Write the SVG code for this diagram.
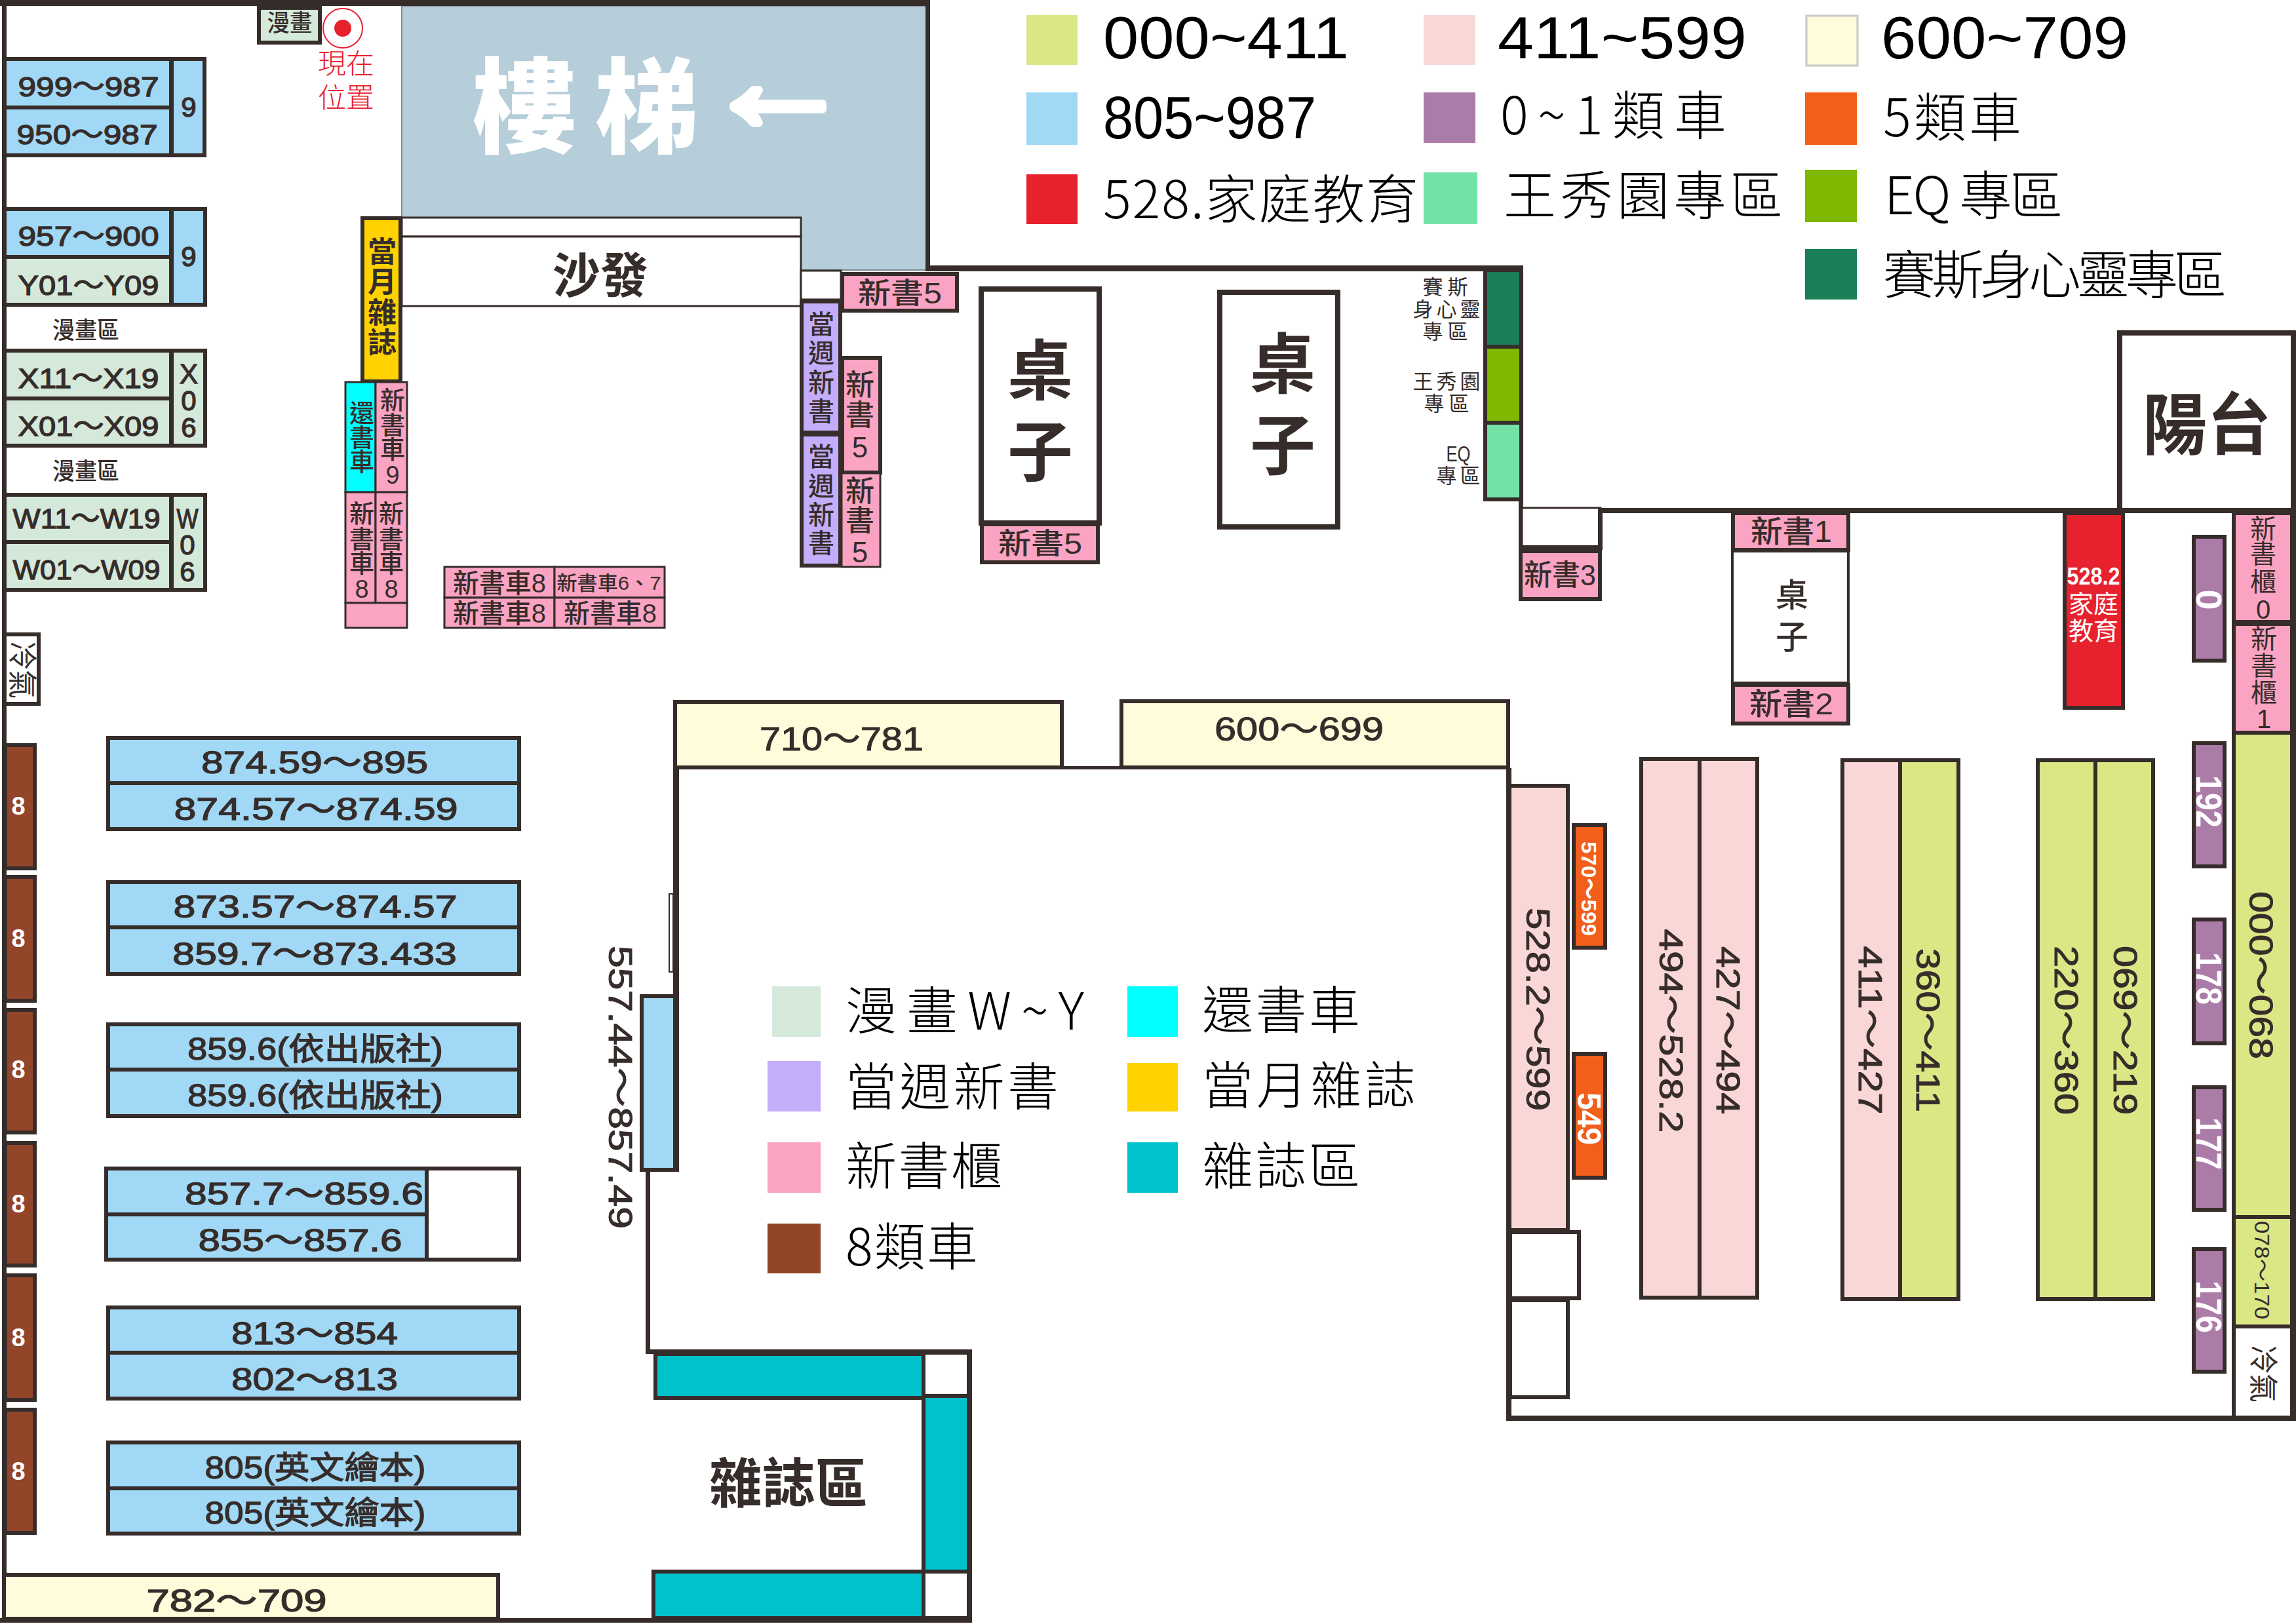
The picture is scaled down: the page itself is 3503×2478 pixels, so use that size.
<svg xmlns="http://www.w3.org/2000/svg" width="3503" height="2478" viewBox="0 0 3503 2478">
<style>
text{font-family:"Liberation Sans","Noto Sans CJK TC",sans-serif;dominant-baseline:central;text-anchor:middle;fill:#362d2b}
rect{stroke:#362d2b;stroke-width:6}
.wall{fill:#362d2b;stroke:none}
.n{stroke:none}
.thin{stroke-width:3}
.blue{fill:#a0d8f5}.lg{fill:#d5e9da}.pink{fill:#fba3c2}.pale{fill:#f9d7d7}.ol{fill:#dbe685}.yel{fill:#fffbdb}
.pur{fill:#ac7ca8}.org{fill:#f15f1b}.red{fill:#e8212e}.teal{fill:#00c1cc}.lav{fill:#c4aefb}.brn{fill:#93452a}.wh{fill:#fff}.cy{fill:#0ff}.gold{fill:#ffd200}
.dg{fill:#1a7f57}.gr{fill:#80b700}.lm{fill:#73e2a7}
.d{font-size:42px;stroke:#362d2b;stroke-width:1.3}
.r{font-size:48px;stroke:#362d2b;stroke-width:1.3}
.v{font-size:50px;stroke:#362d2b;stroke-width:1}
.c{font-size:36px;font-weight:500}
.c4{font-size:44px;font-weight:500}
.cb{font-size:44px;font-weight:700}
.wt{fill:#fff;font-weight:700}
.lg1,.lg2{font-family:"Noto Sans CJK TC",sans-serif;font-weight:300;fill:#000;text-anchor:start}
.lg1{font-size:78px}
.lg2{font-size:80px}
.lg3{font-size:90px;fill:#000;text-anchor:start}
.sm{font-size:31px;font-weight:400}
</style>
<rect width="3503" height="2478" fill="#fff" stroke="none" style="stroke:none"/>

<g id="stairs">
<polygon points="613,9 1413,9 1413,412 1222,412 1222,332 613,332" fill="#b6cdda" stroke="#7d8a90" stroke-width="2"/>
<text x="800" y="166" style="font-size:158px;font-weight:900;fill:#fff">樓</text>
<text x="987" y="166" style="font-size:158px;font-weight:900;fill:#fff">梯</text>
<text x="1187" y="123" style="font-size:215px;font-weight:700;fill:#fff;stroke:#fff;stroke-width:12;stroke-linejoin:round" textLength="228" lengthAdjust="spacingAndGlyphs">←</text>
</g>
<g id="walls">
<rect class="wall" x="0" y="0" width="1418" height="9"/>
<rect class="wall" x="3" y="0" width="7" height="2476"/>
<rect class="wall" x="1412" y="0" width="7" height="412"/>
<rect class="wall" x="1412" y="405" width="912" height="9"/>
<rect class="wall" x="2317" y="405" width="7" height="434"/>
<rect class="wall" x="2442" y="775" width="1061" height="8"/>
<rect class="wall" x="3497" y="775" width="6" height="1393"/>
<rect class="wall" x="2298" y="2160" width="1205" height="8"/>
<rect class="wall" x="2298" y="1172" width="8" height="996"/>
<rect class="wall" x="1622" y="1169" width="90" height="5"/>
<rect class="wall" x="1027" y="1172" width="9" height="616"/>
<rect class="wall" x="985" y="1785" width="7" height="280"/>
<rect class="wall" x="985" y="2059" width="498" height="7"/>
<rect class="wall" x="1475" y="2059" width="8" height="417"/>
<rect class="wall" x="0" y="2469" width="1483" height="7"/>
<rect class="wh thin" x="1021" y="1364" width="6" height="119" style="stroke-width:2"/>
</g>

<g id="sofa">
<rect class="wh thin" x="613" y="332" width="609" height="29"/>
<rect class="wh thin" x="613" y="361" width="609" height="106"/>
<text x="916" y="421" style="font-size:74px;font-weight:700" textLength="146" lengthAdjust="spacingAndGlyphs">沙發</text>
</g>

<g id="comic-top"><rect class="lg" x="395" y="12" width="93" height="53"/><text class="c" x="442" y="35" textLength="69" lengthAdjust="spacingAndGlyphs">漫畫</text></g>
<g id="here">
<circle cx="523" cy="43" r="30" fill="#fff" stroke="#e8212e" stroke-width="2"/><circle cx="523" cy="43" r="13" fill="#e8212e"/>
<text x="528" y="97" style="font-size:42px;font-weight:300;fill:#e8212e" textLength="86" lengthAdjust="spacingAndGlyphs">現在</text>
<text x="528" y="149" style="font-size:42px;font-weight:300;fill:#e8212e" textLength="86" lengthAdjust="spacingAndGlyphs">位置</text>
</g>

<g id="shelf-9a">
<rect class="blue" x="7" y="90" width="254" height="74"/><rect class="blue" x="7" y="164" width="254" height="73"/><rect class="blue" x="262" y="90" width="50" height="147"/>
<text class="d" x="135" y="132" textLength="215" lengthAdjust="spacingAndGlyphs">999～987</text>
<text class="d" x="133" y="205" textLength="215" lengthAdjust="spacingAndGlyphs">950～987</text>
<text class="d" x="288" y="163">9</text>
</g>
<g id="shelf-9b">
<rect class="blue" x="7" y="319" width="254" height="73"/><rect class="lg" x="7" y="392" width="254" height="73"/><rect class="blue" x="262" y="319" width="51" height="146"/>
<text class="d" x="135" y="360" textLength="215" lengthAdjust="spacingAndGlyphs">957～900</text>
<text class="d" x="135" y="435" textLength="215" lengthAdjust="spacingAndGlyphs">Y01～Y09</text>
<text class="d" x="288" y="391">9</text>
</g>
<g id="comic-label-1"><text class="c" x="131" y="504" textLength="102" lengthAdjust="spacingAndGlyphs">漫畫區</text></g>
<g id="shelf-x">
<rect class="lg" x="7" y="535" width="254" height="73"/><rect class="lg" x="7" y="608" width="254" height="72"/><rect class="lg" x="262" y="535" width="51" height="145"/>
<text class="d" x="135" y="577" textLength="215" lengthAdjust="spacingAndGlyphs">X11～X19</text>
<text class="d" x="135" y="650" textLength="215" lengthAdjust="spacingAndGlyphs">X01～X09</text>
<text class="d" x="288" y="570">X</text><text class="d" x="288" y="611">0</text><text class="d" x="288" y="652">6</text>
</g>
<g id="comic-label-2"><text class="c" x="131" y="719" textLength="102" lengthAdjust="spacingAndGlyphs">漫畫區</text></g>
<g id="shelf-w">
<rect class="lg" x="7" y="755" width="254" height="72"/><rect class="lg" x="7" y="827" width="254" height="73"/><rect class="lg" x="262" y="755" width="51" height="145"/>
<text class="d" x="132" y="791" textLength="225" lengthAdjust="spacingAndGlyphs">W11～W19</text>
<text class="d" x="132" y="869" textLength="225" lengthAdjust="spacingAndGlyphs">W01～W09</text>
<text class="d" x="286" y="791" textLength="33" lengthAdjust="spacingAndGlyphs">W</text><text class="d" x="286" y="831">0</text><text class="d" x="286" y="872">6</text>
</g>
<g id="aircon-left"><rect class="wh" x="7" y="968" width="52" height="106"/><text x="33" y="1022" transform="rotate(90 33 1022)" style="font-size:44px;font-weight:400" textLength="88" lengthAdjust="spacingAndGlyphs">冷氣</text></g>

<g id="magazine-month"><rect class="gold" x="553" y="333" width="58" height="249"/>
<text class="cb" x="583" y="384">當</text><text class="cb" x="583" y="430">月</text><text class="cb" x="583" y="477">雜</text><text class="cb" x="583" y="523">誌</text></g>
<g id="return-cart"><rect class="cy thin" x="527" y="583" width="46" height="168"/>
<text class="c" style="font-size:38px" x="552" y="631">還</text><text class="c" style="font-size:38px" x="552" y="668">書</text><text class="c" style="font-size:38px" x="552" y="705">車</text></g>
<g id="newcart-9"><rect class="pink thin" x="573" y="583" width="48" height="168"/>
<text class="c" style="font-size:38px" x="599" y="611">新</text><text class="c" style="font-size:38px" x="599" y="649">書</text><text class="c" style="font-size:38px" x="599" y="686">車</text><text class="c" style="font-size:38px" x="599" y="725">9</text></g>
<g id="newcart-8a"><rect class="pink thin" x="527" y="751" width="46" height="169"/>
<text class="c" style="font-size:38px" x="552" y="784">新</text><text class="c" style="font-size:38px" x="552" y="823">書</text><text class="c" style="font-size:38px" x="552" y="860">車</text><text class="c" style="font-size:38px" x="552" y="899">8</text></g>
<g id="newcart-8b"><rect class="pink thin" x="573" y="751" width="48" height="169"/>
<text class="c" style="font-size:38px" x="597" y="784">新</text><text class="c" style="font-size:38px" x="597" y="823">書</text><text class="c" style="font-size:38px" x="597" y="860">車</text><text class="c" style="font-size:38px" x="597" y="899">8</text></g>
<g id="newcart-base"><rect class="pink thin" x="527" y="920" width="94" height="38"/></g>
<g id="newcart-row">
<rect class="pink thin" x="678" y="865" width="168" height="47"/><rect class="pink thin" x="846" y="865" width="168" height="47"/>
<rect class="pink thin" x="678" y="912" width="168" height="46"/><rect class="pink thin" x="846" y="912" width="168" height="46"/>
<text class="c" style="font-size:40px" x="762" y="890" textLength="142" lengthAdjust="spacingAndGlyphs">新書車8</text><text class="c" style="font-size:40px" x="762" y="936" textLength="142" lengthAdjust="spacingAndGlyphs">新書車8</text>
<text class="c" style="font-size:30px" x="929" y="889" textLength="159" lengthAdjust="spacingAndGlyphs">新書車6、7</text><text class="c" style="font-size:40px" x="931" y="936" textLength="142" lengthAdjust="spacingAndGlyphs">新書車8</text>
</g>

<g id="weekly-1"><rect class="lav" x="1223" y="460" width="59" height="200"/>
<text class="c" style="font-size:40px" x="1253" y="495">當</text><text class="c" style="font-size:40px" x="1253" y="539">週</text><text class="c" style="font-size:40px" x="1253" y="584">新</text><text class="c" style="font-size:40px" x="1253" y="628">書</text></g>
<g id="weekly-2"><rect class="lav" x="1223" y="663" width="59" height="200"/>
<text class="c" style="font-size:40px" x="1253" y="697">當</text><text class="c" style="font-size:40px" x="1253" y="742">週</text><text class="c" style="font-size:40px" x="1253" y="786">新</text><text class="c" style="font-size:40px" x="1253" y="829">書</text></g>
<g id="gap-box"><rect class="wh thin" x="1222" y="413" width="61" height="44"/></g>
<g id="new5-a"><rect class="pink" x="1285" y="418" width="175" height="56"/><text class="c4" x="1373" y="447" textLength="128" lengthAdjust="spacingAndGlyphs">新書5</text></g>
<g id="new5-b"><rect class="pink" x="1285" y="546" width="58" height="175"/>
<text class="c4" x="1312" y="587">新</text><text class="c4" x="1312" y="633">書</text><text class="c4" x="1312" y="682">5</text></g>
<g id="new5-c"><rect class="pink thin" x="1284" y="722" width="59" height="143"/>
<text class="c4" x="1312" y="749">新</text><text class="c4" x="1312" y="794">書</text><text class="c4" x="1312" y="842">5</text></g>
<g id="table-1"><rect class="wh" x="1497" y="441" width="180" height="357" style="stroke-width:8"/>
<text x="1587" y="567" style="font-size:100px;font-weight:700">桌</text><text x="1587" y="691" style="font-size:100px;font-weight:700">子</text></g>
<g id="new5-d"><rect class="pink" x="1498" y="800" width="177" height="58"/><text class="c4" x="1587" y="829" textLength="128" lengthAdjust="spacingAndGlyphs">新書5</text></g>
<g id="table-2"><rect class="wh" x="1861" y="446" width="180" height="358" style="stroke-width:8"/>
<text x="1957" y="557" style="font-size:100px;font-weight:700">桌</text><text x="1957" y="681" style="font-size:100px;font-weight:700">子</text></g>

<g id="zone-seth"><rect class="dg" x="2266" y="412" width="55" height="117"/>
<text class="sm" x="2205" y="438" textLength="69">賽斯</text><text class="sm" x="2207" y="472" textLength="103">身心靈</text><text class="sm" x="2205" y="506" textLength="69">專區</text></g>
<g id="zone-wang"><rect class="gr" x="2266" y="529" width="55" height="116"/>
<text class="sm" x="2207" y="582" textLength="103">王秀園</text><text class="sm" x="2207" y="616" textLength="69">專區</text></g>
<g id="zone-eq"><rect class="lm" x="2266" y="645" width="55" height="117"/>
<text class="sm" style="font-size:34px" x="2225" y="692" textLength="37" lengthAdjust="spacingAndGlyphs">EQ</text><text class="sm" x="2225" y="726" textLength="67">專區</text></g>

<g id="gap-box-2"><rect class="wh thin" x="2322" y="775" width="120" height="60"/><rect class="wall" x="2438" y="775" width="7" height="62"/><rect class="wall" x="2320" y="832" width="125" height="7"/></g>
<g id="new3"><rect class="pink" x="2320" y="841" width="121" height="73"/><text class="c" style="font-size:44px" x="2380" y="877" textLength="110" lengthAdjust="spacingAndGlyphs">新書3</text></g>
<g id="balcony"><rect class="wh" x="3234" y="508" width="265" height="271" style="stroke-width:8"/><text x="3367" y="650" style="font-size:102px;font-weight:700" textLength="196" lengthAdjust="spacingAndGlyphs">陽台</text></g>
<g id="new1"><rect class="pink" x="2644" y="783" width="176" height="56"/><text class="c" style="font-size:46px" x="2733" y="811" textLength="124" lengthAdjust="spacingAndGlyphs">新書1</text></g>
<g id="table-3"><rect class="wh" x="2643" y="841" width="177" height="201" style="stroke-width:4"/>
<text x="2734" y="909" style="font-size:50px;font-weight:500">桌</text><text x="2734" y="973" style="font-size:50px;font-weight:500">子</text></g>
<g id="new2"><rect class="pink" x="2644" y="1045" width="176" height="59"/><text class="c" style="font-size:46px" x="2733" y="1074" textLength="128" lengthAdjust="spacingAndGlyphs">新書2</text></g>
<g id="family-ed"><rect class="red" x="3150" y="783" width="89" height="297"/>
<text class="wt" style="font-size:36px" x="3194" y="879" textLength="81" lengthAdjust="spacingAndGlyphs">528.2</text>
<text class="wt" style="font-size:38px;font-weight:400" x="3194" y="922" textLength="76" lengthAdjust="spacingAndGlyphs">家庭</text>
<text class="wt" style="font-size:38px;font-weight:400" x="3194" y="963" textLength="76" lengthAdjust="spacingAndGlyphs">教育</text></g>
<g id="cab-0"><rect class="pink" x="3408" y="783" width="89" height="166"/>
<text class="c" style="font-size:40px;font-weight:400" x="3453" y="807">新</text><text class="c" style="font-size:40px;font-weight:400" x="3453" y="845">書</text><text class="c" style="font-size:40px;font-weight:400" x="3453" y="888">櫃</text><text class="c" style="font-size:40px;font-weight:400" x="3453" y="930">0</text></g>
<g id="cab-1"><rect class="pink" x="3408" y="952" width="89" height="166"/>
<text class="c" style="font-size:40px;font-weight:400" x="3454" y="975">新</text><text class="c" style="font-size:40px;font-weight:400" x="3454" y="1016">書</text><text class="c" style="font-size:40px;font-weight:400" x="3454" y="1057">櫃</text><text class="c" style="font-size:40px;font-weight:400" x="3454" y="1097">1</text></g>

<g id="pur-0"><rect class="pur" x="3347" y="819" width="47" height="189"/><text class="wt" style="font-size:56px" x="3370" y="915" transform="rotate(90 3370 915)">0</text></g>
<g id="pur-192"><rect class="pur" x="3347" y="1134" width="47" height="188"/><text class="wt" style="font-size:56px" x="3370" y="1223" transform="rotate(90 3370 1223)" textLength="80" lengthAdjust="spacingAndGlyphs">192</text></g>
<g id="pur-178"><rect class="pur" x="3347" y="1403" width="47" height="189"/><text class="wt" style="font-size:56px" x="3370" y="1493" transform="rotate(90 3370 1493)" textLength="80" lengthAdjust="spacingAndGlyphs">178</text></g>
<g id="pur-177"><rect class="pur" x="3347" y="1659" width="47" height="187"/><text class="wt" style="font-size:56px" x="3370" y="1745" transform="rotate(90 3370 1745)" textLength="80" lengthAdjust="spacingAndGlyphs">177</text></g>
<g id="pur-176"><rect class="pur" x="3347" y="1906" width="47" height="187"/><text class="wt" style="font-size:56px" x="3370" y="1994" transform="rotate(90 3370 1994)" textLength="80" lengthAdjust="spacingAndGlyphs">176</text></g>

<g id="s-000"><rect class="ol" x="3408" y="1118" width="89" height="739"/><text class="v" x="3449" y="1488" transform="rotate(90 3449 1488)" textLength="256" lengthAdjust="spacingAndGlyphs">000～068</text></g>
<g id="s-078"><rect class="ol" x="3408" y="1857" width="89" height="167"/><text x="3451" y="1938" transform="rotate(90 3451 1938)" style="font-size:32px" textLength="150" lengthAdjust="spacingAndGlyphs">078～170</text></g>
<g id="aircon-right"><rect class="wh" x="3408" y="2024" width="89" height="139"/><text x="3452" y="2096" transform="rotate(90 3452 2096)" style="font-size:44px;font-weight:400" textLength="88" lengthAdjust="spacingAndGlyphs">冷氣</text></g>

<g id="s-220"><rect class="ol" x="3109" y="1160" width="88" height="822"/><rect class="ol" x="3197" y="1160" width="88" height="822"/>
<text class="v" x="3152" y="1572" transform="rotate(90 3152 1572)" textLength="258" lengthAdjust="spacingAndGlyphs">220～360</text>
<text class="v" x="3242" y="1572" transform="rotate(90 3242 1572)" textLength="258" lengthAdjust="spacingAndGlyphs">069～219</text></g>
<g id="s-411"><rect class="pale" x="2811" y="1160" width="88" height="822"/><rect class="ol" x="2899" y="1160" width="89" height="822"/>
<text class="v" x="2853" y="1572" transform="rotate(90 2853 1572)" textLength="257" lengthAdjust="spacingAndGlyphs">411～427</text>
<text class="v" x="2941" y="1572" transform="rotate(90 2941 1572)" textLength="250" lengthAdjust="spacingAndGlyphs">360～411</text></g>
<g id="s-494"><rect class="pale" x="2504" y="1158" width="89" height="822"/><rect class="pale" x="2593" y="1158" width="88" height="822"/>
<text class="v" x="2549" y="1573" transform="rotate(90 2549 1573)" textLength="311" lengthAdjust="spacingAndGlyphs">494～528.2</text>
<text class="v" x="2636" y="1572" transform="rotate(90 2636 1572)" textLength="256" lengthAdjust="spacingAndGlyphs">427～494</text></g>
<g id="s-528"><rect class="pale" x="2303" y="1199" width="89" height="678"/>
<text class="v" x="2346" y="1540" transform="rotate(90 2346 1540)" textLength="310" lengthAdjust="spacingAndGlyphs">528.2～599</text></g>
<g id="box-a"><rect class="wh" x="2304" y="1880" width="105" height="101" /></g>
<g id="box-b"><rect class="wh" x="2304" y="1984" width="88" height="148"/></g>
<g id="s-570"><rect class="org" x="2401" y="1259" width="48" height="187"/><text class="wt" style="font-size:32px" x="2424" y="1356" transform="rotate(90 2424 1356)" textLength="144" lengthAdjust="spacingAndGlyphs">570～599</text></g>
<g id="s-549"><rect class="org" x="2401" y="1608" width="48" height="189"/><text class="wt" style="font-size:50px" x="2424" y="1707" transform="rotate(90 2424 1707)" textLength="80" lengthAdjust="spacingAndGlyphs">549</text></g>

<g id="s-710"><rect class="yel" x="1030" y="1071" width="590" height="100"/><text class="v" x="1284" y="1128" textLength="250" lengthAdjust="spacingAndGlyphs">710～781</text></g>
<g id="s-600"><rect class="yel" x="1711" y="1070" width="590" height="101"/><text class="v" x="1982" y="1113" textLength="258" lengthAdjust="spacingAndGlyphs">600～699</text></g>
<g id="s-557"><rect class="blue" x="979" y="1520" width="51" height="265"/><text class="v" x="946" y="1659" transform="rotate(90 946 1659)" textLength="432" lengthAdjust="spacingAndGlyphs">557.44～857.49</text></g>

<g id="cart-1"><rect class="brn" x="8" y="1137" width="45" height="188"/><text class="wt" style="font-size:38px" x="28" y="1230">8</text></g>
<g id="cart-2"><rect class="brn" x="8" y="1338" width="45" height="189"/><text class="wt" style="font-size:38px" x="28" y="1432">8</text></g>
<g id="cart-3"><rect class="brn" x="8" y="1541" width="45" height="187"/><text class="wt" style="font-size:38px" x="28" y="1632">8</text></g>
<g id="cart-4"><rect class="brn" x="8" y="1744" width="45" height="187"/><text class="wt" style="font-size:38px" x="28" y="1837">8</text></g>
<g id="cart-5"><rect class="brn" x="8" y="1946" width="45" height="190"/><text class="wt" style="font-size:38px" x="28" y="2041">8</text></g>
<g id="cart-6"><rect class="brn" x="8" y="2151" width="45" height="188"/><text class="wt" style="font-size:38px" x="28" y="2245">8</text></g>

<g id="row-1"><rect class="blue" x="165" y="1126" width="627" height="69"/><rect class="blue" x="165" y="1195" width="627" height="70"/>
<text class="r" x="480" y="1163" textLength="346" lengthAdjust="spacingAndGlyphs">874.59～895</text><text class="r" x="482" y="1234" textLength="433" lengthAdjust="spacingAndGlyphs">874.57～874.59</text></g>
<g id="row-2"><rect class="blue" x="165" y="1346" width="627" height="69"/><rect class="blue" x="165" y="1415" width="627" height="71"/>
<text class="r" x="481" y="1383" textLength="433" lengthAdjust="spacingAndGlyphs">873.57～874.57</text><text class="r" x="480" y="1455" textLength="434" lengthAdjust="spacingAndGlyphs">859.7～873.433</text></g>
<g id="row-3"><rect class="blue" x="165" y="1563" width="627" height="69"/><rect class="blue" x="165" y="1632" width="627" height="71"/>
<text class="r" x="481" y="1600" textLength="390" lengthAdjust="spacingAndGlyphs">859.6(依出版社)</text><text class="r" x="481" y="1671" textLength="390" lengthAdjust="spacingAndGlyphs">859.6(依出版社)</text></g>
<g id="row-4"><rect class="blue" x="162" y="1783" width="489" height="70"/><rect class="blue" x="162" y="1853" width="489" height="69"/><rect class="wh" x="651" y="1783" width="141" height="139"/>
<text class="r" x="464" y="1821" textLength="364" lengthAdjust="spacingAndGlyphs">857.7～859.6</text><text class="r" x="458" y="1892" textLength="311" lengthAdjust="spacingAndGlyphs">855～857.6</text></g>
<g id="row-5"><rect class="blue" x="165" y="1995" width="627" height="69"/><rect class="blue" x="165" y="2064" width="627" height="70"/>
<text class="r" x="480" y="2034" textLength="254" lengthAdjust="spacingAndGlyphs">813～854</text><text class="r" x="480" y="2104" textLength="254" lengthAdjust="spacingAndGlyphs">802～813</text></g>
<g id="row-6"><rect class="blue" x="165" y="2201" width="627" height="70"/><rect class="blue" x="165" y="2271" width="627" height="69"/>
<text class="r" x="481" y="2239" textLength="337" lengthAdjust="spacingAndGlyphs">805(英文繪本)</text><text class="r" x="481" y="2308" textLength="337" lengthAdjust="spacingAndGlyphs">805(英文繪本)</text></g>
<g id="s-782"><rect class="yel" x="6" y="2403" width="754" height="67"/><text class="r" x="361" y="2442" textLength="275" lengthAdjust="spacingAndGlyphs">782～709</text></g>

<g id="magazine">
<rect class="teal" x="1000" y="2066" width="409" height="67"/>
<rect class="wh" x="1409" y="2064" width="69" height="66"/>
<rect class="teal" x="1409" y="2130" width="69" height="268"/>
<rect class="wh" x="1409" y="2398" width="69" height="71"/>
<rect class="teal" x="997" y="2398" width="412" height="71"/>
<text x="1203" y="2264" style="font-size:82px;font-weight:700" textLength="242" lengthAdjust="spacingAndGlyphs">雜誌區</text>
</g>

<g id="legend-top">
<rect class="ol n" x="1566" y="23" width="78" height="76"/><text class="lg3" x="1683" y="58" textLength="375" lengthAdjust="spacingAndGlyphs">000~411</text>
<rect class="pale n" x="2172" y="23" width="79" height="76"/><text class="lg3" x="2285" y="58" textLength="380" lengthAdjust="spacingAndGlyphs">411~599</text>
<rect class="yel" x="2756" y="24" width="78" height="76" style="stroke:#c8c8c8;stroke-width:3"/><text class="lg3" x="2870" y="58" textLength="377" lengthAdjust="spacingAndGlyphs">600~709</text>
<rect class="blue n" x="1566" y="141" width="78" height="80"/><text class="lg3" x="1683" y="180" textLength="325" lengthAdjust="spacingAndGlyphs">805~987</text>
<rect class="pur n" x="2172" y="141" width="79" height="77"/><text class="lg2" x="2289" y="170" textLength="345">0~1類車</text>
<rect class="org n" x="2754" y="141" width="79" height="80"/><text class="lg2" x="2873" y="173" textLength="211">5類車</text>
<rect class="red n" x="1566" y="266" width="78" height="76"/><text class="lg2" x="1683" y="298" textLength="481">528.家庭教育</text>
<rect class="lm n" x="2172" y="263" width="82" height="79"/><text class="lg2" x="2294" y="292" textLength="426">王秀園專區</text>
<rect class="gr n" x="2754" y="259" width="79" height="80"/><text class="lg2" x="2875" y="292" textLength="272">EQ 專區</text>
<rect class="dg n" x="2754" y="380" width="79" height="77"/><text class="lg2" x="2873" y="413" textLength="524">賽斯身心靈專區</text>
</g>
<g id="legend-mid">
<rect class="lg n" x="1178" y="1505" width="74" height="77"/><text class="lg1" x="1290" y="1537" textLength="364">漫畫W~Y</text>
<rect class="cy n" x="1720" y="1505" width="77" height="77"/><text class="lg1" x="1834" y="1536" textLength="241">還書車</text>
<rect class="lav n" x="1171" y="1619" width="81" height="77"/><text class="lg1" x="1290" y="1653" textLength="325">當週新書</text>
<rect class="gold n" x="1720" y="1622" width="77" height="74"/><text class="lg1" x="1834" y="1651" textLength="326">當月雜誌</text>
<rect class="pink n" x="1171" y="1743" width="81" height="77"/><text class="lg1" x="1290" y="1774" textLength="239">新書櫃</text>
<rect class="teal n" x="1720" y="1743" width="77" height="77"/><text class="lg1" x="1834" y="1774" textLength="241">雜誌區</text>
<rect class="brn n" x="1171" y="1867" width="81" height="76"/><text class="lg1" x="1290" y="1897" textLength="202">8類車</text>
</g>
</svg>
